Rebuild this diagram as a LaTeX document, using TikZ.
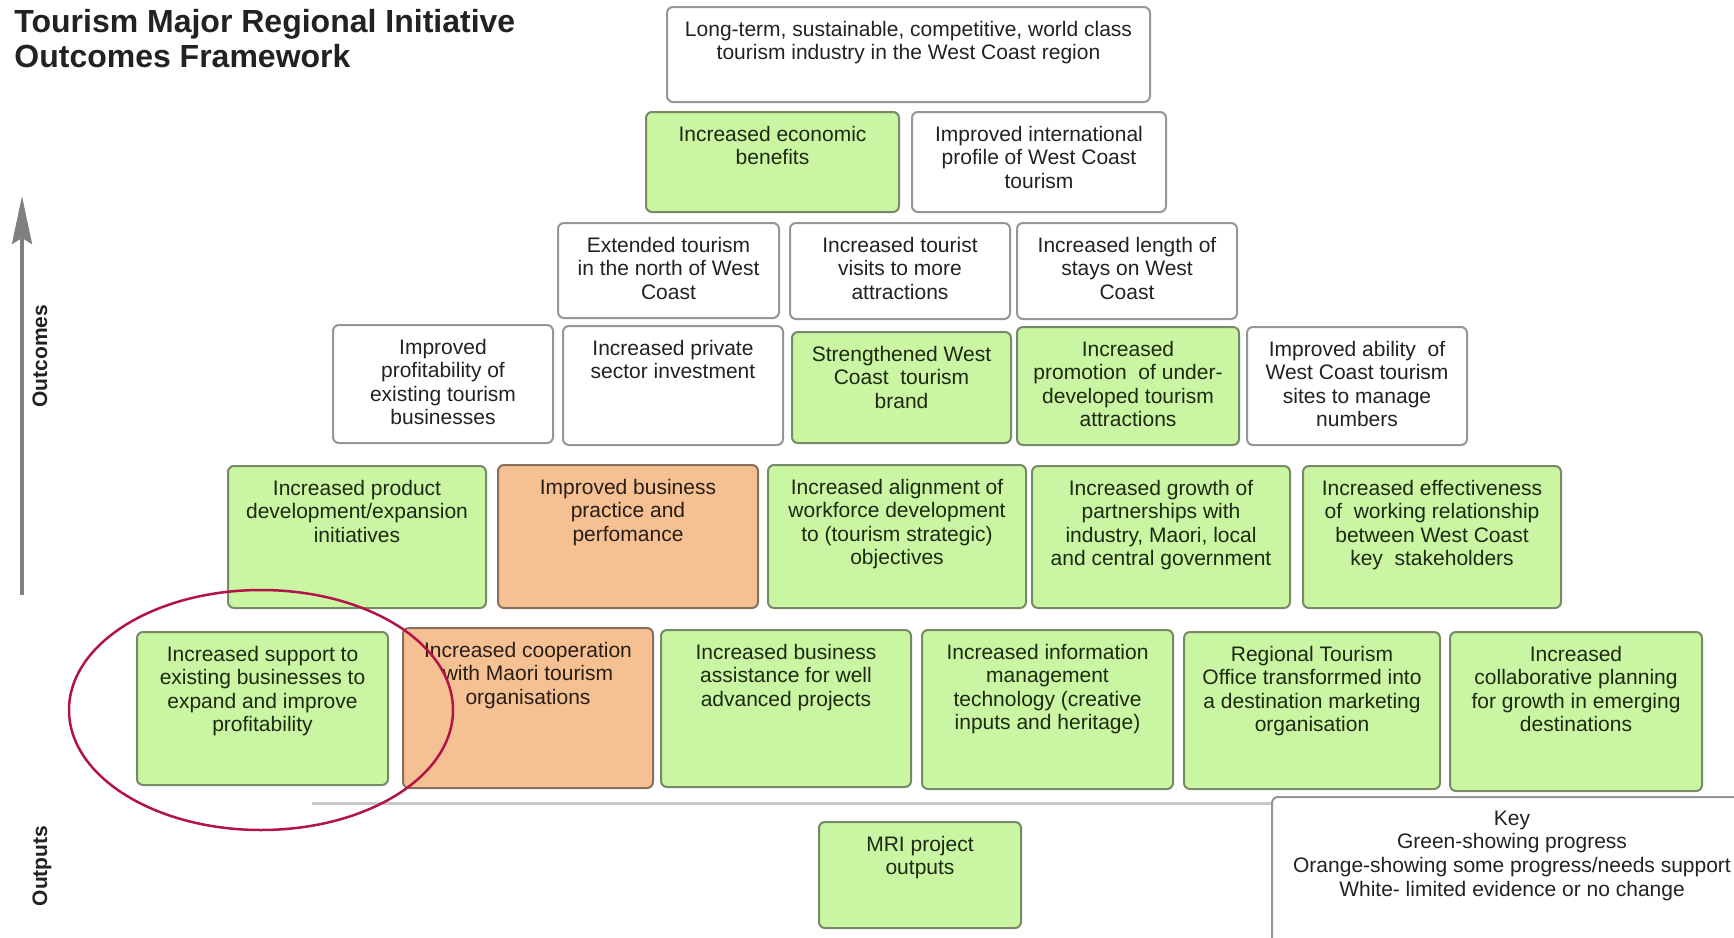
\documentclass[tikz,border=0pt]{standalone}
\usepackage{fontspec}
\setmainfont{Liberation Sans}
\usetikzlibrary{arrows.meta}

\definecolor{cellgreen}{RGB}{202,245,162}
\definecolor{edgegreen}{RGB}{118,138,104}
\definecolor{cellorange}{RGB}{245,192,146}
\definecolor{edgeorange}{RGB}{138,112,92}
\definecolor{edgegrey}{RGB}{150,150,150}
\definecolor{inkgrey}{RGB}{34,34,34}
\definecolor{inkgreen}{RGB}{28,42,18}
\definecolor{inkbrown}{RGB}{40,30,22}
\definecolor{rulegrey}{RGB}{200,200,200}
\definecolor{arrowgrey}{RGB}{128,128,128}
\definecolor{ringred}{RGB}{178,20,72}

\tikzset{
  cellbox/.style={draw, rounded corners=3pt, line width=1pt, inner sep=0pt, outer sep=0pt},
  wcell/.style={fill=white, draw=edgegrey},
  gcell/.style={fill=cellgreen, draw=edgegreen},
  ocell/.style={fill=cellorange, draw=edgeorange},
  celltext/.style={anchor=north, inner sep=0pt, align=center,
    font=\fontsize{10.5pt}{11.8pt}\selectfont},
  wcell-ink/.style={text=inkgrey},
  gcell-ink/.style={text=inkgreen},
  ocell-ink/.style={text=inkbrown},
  sidelabel/.style={rotate=90, inner sep=0pt, text=inkgrey,
    font=\bfseries\fontsize{10.5pt}{12pt}\selectfont},
}

% \cell{name}{colour style}{x1}{y1}{x2}{y2}{text}: a rounded box spanning
% (x1,y1)-(x2,y2) with its text set near the top edge
\newcommand\cell[7]{%
  \pgfmathsetmacro\cellw{(#5-#3)/2}%
  \pgfmathsetmacro\cellh{(#6-#4)/2}%
  \node[cellbox,#2,minimum width=\cellw pt,minimum height=\cellh pt,anchor=north west] (#1) at (#3,#4) {};
  \node[celltext,#2-ink] (#1-txt) at ([yshift=-6.75pt]#1.north) {#7};
}

\begin{document}
\begin{tikzpicture}[x=0.5pt,y=-0.5pt]
\useasboundingbox (0,0) rectangle (1734,937);
\clip (0,0) rectangle (1734,937);
\fill[white] (0,0) rectangle (1734,937);

% heading
\node[anchor=north west, inner sep=0pt, align=left, text=inkgrey,
  font=\bfseries\fontsize{16pt}{17.5pt}\selectfont] (title) at (14,9)
  {Tourism Major Regional Initiative\\Outcomes Framework};

% direction of the outcomes
\coordinate (arrowFoot) at (22,595);
\coordinate (arrowHead) at (22,196);
\draw[arrowgrey, line width=1.75pt, -{Stealth[length=24pt,width=10pt,inset=3pt]}]
  (arrowFoot) -- (arrowHead);
\node[sidelabel] (outcomesLabel) at (40,356) {Outcomes};
\node[sidelabel] (outputsLabel) at (42,866) {Outputs};

% long-term outcome
\cell{goal}{wcell}{667}{7}{1150}{102}{Long-term, sustainable, competitive, world class\\tourism industry in the West Coast region}

% high-level outcomes
\cell{econ}{gcell}{646}{112}{899}{212}{Increased economic\\benefits}
\cell{intl}{wcell}{912}{112}{1166}{212}{Improved international\\profile of West Coast\\tourism}

% intermediate outcomes
\cell{north}{wcell}{558}{223}{779}{318}{Extended tourism\\in the north of West\\Coast}
\cell{visits}{wcell}{790}{223}{1010}{319}{Increased tourist\\visits to more\\attractions}
\cell{stays}{wcell}{1017}{223}{1237}{319}{Increased length of\\stays on West\\Coast}

\cell{profit}{wcell}{333}{325}{553}{443}{Improved\\profitability of\\existing tourism\\businesses}
\cell{invest}{wcell}{563}{326}{783}{445}{Increased private\\sector investment}
\cell{brand}{gcell}{792}{332}{1011}{443}{Strengthened West\\Coast~ tourism\\brand}
\cell{promo}{gcell}{1017}{327}{1239}{445}{Increased\\promotion~ of under-\\developed tourism\\attractions}
\cell{ability}{wcell}{1247}{327}{1467}{445}{Improved ability~ of\\West Coast tourism\\sites to manage\\numbers}

% short-term outcomes
\cell{product}{gcell}{228}{466}{486}{608}{Increased product\\development/expansion\\initiatives}
\cell{practice}{ocell}{498}{465}{758}{608}{Improved business\\practice and\\perfomance}
\cell{workforce}{gcell}{768}{465}{1026}{608}{Increased alignment of\\workforce development\\to (tourism strategic)\\objectives}
\cell{partner}{gcell}{1032}{466}{1290}{608}{Increased growth of\\partnerships with\\industry, Maori, local\\and central government}
\cell{relation}{gcell}{1303}{466}{1561}{608}{Increased effectiveness\\of~ working relationship\\between West Coast\\key~ stakeholders}

% immediate outcomes
\cell{support}{gcell}{137}{632}{388}{785}{Increased support to\\existing businesses to\\expand and improve\\profitability}
\cell{maori}{ocell}{403}{628}{653}{788}{Increased cooperation\\with Maori tourism\\organisations}
\cell{assist}{gcell}{661}{630}{911}{787}{Increased business\\assistance for well\\advanced projects}
\cell{infotech}{gcell}{922}{630}{1173}{789}{Increased information\\management\\technology (creative\\inputs and heritage)}
\cell{rto}{gcell}{1184}{632}{1440}{789}{Regional Tourism\\Office transforrmed into\\a destination marketing\\organisation}
\cell{collab}{gcell}{1450}{632}{1702}{791}{Increased\\collaborative planning\\for growth in emerging\\destinations}

% divider between outcomes and outputs
\coordinate (ruleStart) at (312,803);
\coordinate (ruleEnd) at (1734,803);
\draw[rulegrey, line width=1.5pt] (ruleStart) -- (ruleEnd);

% outputs and legend
\cell{mri}{gcell}{819}{822}{1021}{928}{MRI project\\outputs}
\cell{key}{wcell}{1272}{797}{1752}{960}{Key\\Green-showing progress\\Orange-showing some progress/needs support\\White- limited evidence or no change}

% highlight ring
\draw[ringred, line width=1.25pt] (261,710) ellipse [x radius=96pt, y radius=60pt];
\end{tikzpicture}
\end{document}
